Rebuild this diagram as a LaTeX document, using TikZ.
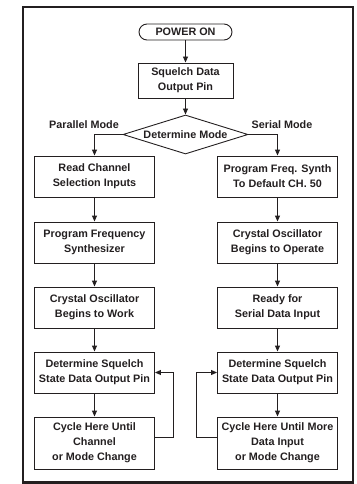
\documentclass[tikz,border=0pt]{standalone}
\usepackage{fontspec}
\setmainfont{Liberation Sans}
\usetikzlibrary{shapes.geometric,arrows.meta}
\definecolor{ink}{HTML}{231F20}
\begin{document}
\begin{tikzpicture}[x=1pt,y=-1pt,
  every node/.style={text=ink},
  font=\bfseries\fontsize{10.8}{14.8}\selectfont,
  box/.style={draw=ink, line width=0.9pt, align=center, minimum width=120pt, minimum height=41pt, inner sep=0pt},
  term/.style={draw=ink, line width=0.9pt, rounded corners=8pt, minimum width=93pt, minimum height=16pt, inner sep=0pt},
  arr/.style={draw=ink, line width=0.9pt, -{Triangle[length=6pt,width=5pt]}},
  link/.style={draw=ink, line width=0.9pt}
]
\useasboundingbox (0,0) rectangle (356,484);
\draw[ink, line width=2.5pt] (23,7) rectangle (353,482.5);

\node[term] (pw) at (185.5,32) {POWER ON};
\node[box, minimum width=95pt, minimum height=35pt] (sq) at (185.5,80.5) {Squelch Data\\Output Pin};
\node[draw=ink, line width=0.9pt, diamond, aspect=3.2, minimum width=125pt, minimum height=39pt, inner sep=0pt] (dm) at (185.5,134.5) {Determine Mode};
\node (pl) at (84,125) {Parallel Mode};
\node (se) at (282,125) {Serial Mode};

\node[box] (l1) at (94.5,176.5) {Read Channel\\Selection Inputs};
\node[box] (l2) at (94.5,242.5) {Program Frequency\\Synthesizer};
\node[box] (l3) at (94.5,307.5) {Crystal Oscillator\\Begins to Work};
\node[box] (l4) at (94.5,372.5) {Determine Squelch\\State Data Output Pin};
\node[box, minimum height=52pt] (l5) at (94.5,443) {Cycle Here Until\\Channel\\or Mode Change};

\node[box] (r1) at (277.5,176.5) {Program Freq. Synth\\To Default CH. 50};
\node[box] (r2) at (277.5,242.5) {Crystal Oscillator\\Begins to Operate};
\node[box] (r3) at (277.5,307.5) {Ready for\\Serial Data Input};
\node[box] (r4) at (277.5,372.5) {Determine Squelch\\State Data Output Pin};
\node[box, minimum height=52pt] (r5) at (277.5,443) {Cycle Here Until More\\Data Input\\or Mode Change};

\coordinate (lk) at (173,0);
\coordinate (rk) at (196,0);

\draw[arr] (pw) -- (sq);
\draw[arr] (sq) -- (dm);
\draw[arr] (dm.west) -| (l1.north);
\draw[arr] (dm.east) -| (r1.north);
\draw[arr] (l1) -- (l2);
\draw[arr] (l2) -- (l3);
\draw[arr] (l3) -- (l4);
\draw[arr] (l4) -- (l5);
\draw[arr] (r1) -- (r2);
\draw[arr] (r2) -- (r3);
\draw[arr] (r3) -- (r4);
\draw[arr] (r4) -- (r5);
\draw[arr] ([yshift=6pt]l5.east) -| (lk |- l4.east) -- (l4.east);
\draw[arr] ([yshift=6pt]r5.west) -| (rk |- r4.west) -- (r4.west);
\end{tikzpicture}
\end{document}
